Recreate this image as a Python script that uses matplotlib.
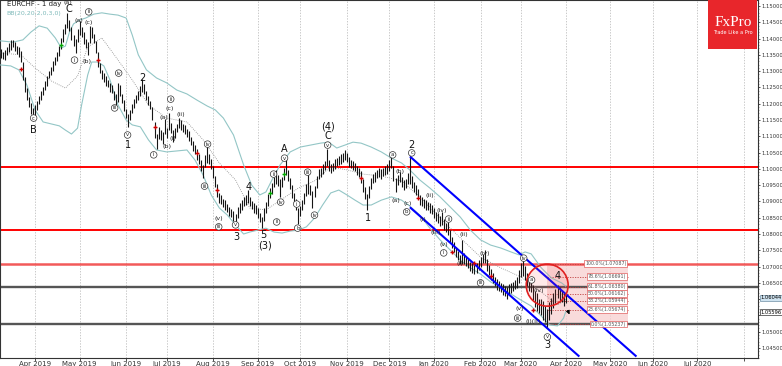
import numpy as np
import pandas as pd
import matplotlib
matplotlib.use("Agg")
import matplotlib.pyplot as plt
import matplotlib.transforms as mtrans
from matplotlib.patches import Ellipse, Rectangle

# daily bars from 2019-03-07, one per weekday (bar index)
start_date = "2019-03-07"

bar_mid = [
    1.1355, 1.1348, 1.1350, 1.1362, 1.1372, 1.1380, 1.1385, 1.1376, 1.1365, 1.1358,
    1.1345, 1.1300, 1.1260, 1.1230, 1.1205, 1.1185, 1.1168, 1.1180, 1.1195, 1.1212,
    1.1225, 1.1240, 1.1255, 1.1270, 1.1290, 1.1300, 1.1315, 1.1330, 1.1345, 1.1362,
    1.1385, 1.1410, 1.1430, 1.1455, 1.1440, 1.1415, 1.1395, 1.1378, 1.1410, 1.1432,
    1.1420, 1.1402, 1.1385, 1.1370, 1.1412, 1.1420, 1.1400, 1.1375, 1.1335, 1.1310,
    1.1290, 1.1280, 1.1270, 1.1262, 1.1250, 1.1245, 1.1225, 1.1212, 1.1235, 1.1240,
    1.1215, 1.1195, 1.1170, 1.1148, 1.1165, 1.1185, 1.1200, 1.1215, 1.1225, 1.1240,
    1.1255, 1.1245, 1.1225, 1.1210, 1.1195, 1.1170, 1.1120, 1.1085, 1.1110, 1.1105,
    1.1095, 1.1130, 1.1110, 1.1145, 1.1125, 1.1100, 1.1110, 1.1125, 1.1140, 1.1135,
    1.1125, 1.1120, 1.1110, 1.1100, 1.1085, 1.1070, 1.1060, 1.1045, 1.1030, 1.1010,
    1.0992, 1.1025, 1.1045, 1.1030, 1.1015, 1.0990, 1.0960, 1.0935, 1.0910, 1.0905,
    1.0895, 1.0890, 1.0880, 1.0870, 1.0865, 1.0855, 1.0842, 1.0865, 1.0880, 1.0890,
    1.0900, 1.0905, 1.0915, 1.0900, 1.0890, 1.0880, 1.0875, 1.0865, 1.0850, 1.0835,
    1.0860, 1.0880, 1.0905, 1.0925, 1.0940, 1.0960, 1.0975, 1.0965, 1.0940, 1.0960,
    1.0985, 1.1005, 1.0980, 1.0955, 1.0930, 1.0910, 1.0890, 1.0855, 1.0870, 1.0890,
    1.0910, 1.0935, 1.0955, 1.0935, 1.0905, 1.0930, 1.0960, 1.0985, 1.0990, 1.1000,
    1.1010, 1.1035, 1.1010, 1.1000, 1.1005, 1.1015, 1.1020, 1.1025, 1.1030, 1.1035,
    1.1042, 1.1035, 1.1020, 1.1015, 1.1010, 1.1005, 1.0995, 1.0990, 1.0975, 1.0950,
    1.0925, 1.0898, 1.0930, 1.0955, 1.0970, 1.0975, 1.0985, 1.0990, 1.0985, 1.0990,
    1.0995, 1.1000, 1.1010, 1.1022, 1.0985, 1.0950, 1.0965, 1.0975, 1.0960, 1.0950,
    1.0955, 1.0970, 1.0995, 1.0960, 1.0945, 1.0935, 1.0925, 1.0905, 1.0900, 1.0895,
    1.0890, 1.0885, 1.0880, 1.0875, 1.0865, 1.0855, 1.0850, 1.0840, 1.0848, 1.0830,
    1.0820, 1.0818, 1.0795, 1.0775, 1.0760, 1.0745, 1.0735, 1.0722, 1.0745, 1.0725,
    1.0715, 1.0710, 1.0700, 1.0695, 1.0690, 1.0695, 1.0705, 1.0715, 1.0725, 1.0732,
    1.0705, 1.0690, 1.0675, 1.0665, 1.0655, 1.0645, 1.0640, 1.0635, 1.0630, 1.0625,
    1.0618, 1.0630, 1.0635, 1.0640, 1.0645, 1.0650, 1.0670, 1.0690, 1.0700, 1.0680,
    1.0660, 1.0645, 1.0640, 1.0620, 1.0600, 1.0590, 1.0580, 1.0575, 1.0565, 1.0555,
    1.0540, 1.0565, 1.0580, 1.0595, 1.0610, 1.0625, 1.0615, 1.0610, 1.0600, 1.0604,
]

bar_span_pips = [
    28, 22, 30, 25, 26, 32, 24, 29, 27, 31,
    35, 55, 45, 38, 30, 34, 40, 33, 28, 26,
    30, 24, 27, 29, 22, 26, 31, 25, 28, 30,
    34, 38, 32, 48, 36, 40, 33, 42, 38, 45,
    30, 35, 28, 40, 52, 34, 30, 38, 45, 32,
    28, 26, 30, 24, 27, 25, 30, 34, 60, 32,
    28, 33, 30, 42, 30, 26, 28, 24, 27, 30,
    40, 30, 26, 28, 25, 38, 50, 45, 34, 30,
    35, 48, 32, 52, 30, 38, 28, 26, 32, 30,
    25, 28, 24, 30, 26, 32, 28, 35, 30, 33,
    42, 38, 55, 32, 30, 36, 34, 40, 32, 28,
    25, 30, 26, 28, 24, 30, 36, 34, 28, 30,
    26, 30, 38, 28, 25, 30, 27, 32, 28, 36,
    40, 34, 38, 30, 35, 32, 40, 34, 55, 30,
    36, 48, 34, 32, 38, 30, 35, 50, 32, 30,
    34, 36, 62, 30, 52, 34, 38, 30, 28, 32,
    30, 50, 34, 28, 26, 30, 25, 28, 30, 26,
    32, 28, 30, 26, 28, 25, 30, 27, 35, 40,
    38, 48, 36, 32, 28, 30, 26, 28, 30, 25,
    28, 30, 32, 40, 45, 42, 30, 28, 32, 30,
    28, 34, 80, 38, 30, 32, 28, 30, 26, 28,
    30, 25, 28, 26, 30, 28, 32, 30, 38, 34,
    30, 40, 36, 34, 32, 30, 28, 30, 75, 34,
    28, 30, 26, 32, 28, 30, 28, 30, 26, 40,
    38, 32, 34, 30, 28, 32, 30, 28, 34, 30,
    36, 32, 30, 28, 30, 34, 40, 45, 55, 42,
    38, 40, 36, 45, 50, 55, 42, 48, 60, 50,
    60, 55, 48, 45, 42, 40, 45, 38, 40, 30,
]

# Bollinger bands (bar index, price)
bb_upper_idx = [0, 6, 11, 15, 19, 23, 27, 30, 32, 34, 36, 39, 42, 46, 50, 54, 58, 62, 65, 68,
                72, 77, 82, 87, 92, 97, 102, 106, 110, 115, 120, 124, 128, 131, 134, 138, 143,
                148, 153, 158, 162, 166, 170, 174, 178, 183, 188, 193, 198, 202, 207, 212, 217,
                222, 227, 232, 237, 242, 247, 252, 256, 259, 262, 267, 272, 277, 279]
bb_upper = [1.1393, 1.1389, 1.1396, 1.1420, 1.1439, 1.1432, 1.1402, 1.1371, 1.1377, 1.1420,
            1.1445, 1.1457, 1.1463, 1.1475, 1.1479, 1.1475, 1.1472, 1.1463, 1.1411, 1.1350,
            1.1304, 1.1279, 1.1264, 1.1242, 1.1230, 1.1211, 1.1193, 1.1181, 1.1156, 1.1104,
            1.1012, 1.0950, 1.0920, 1.0929, 1.0966, 1.1012, 1.1052, 1.1067, 1.1073, 1.1079,
            1.1082, 1.1064, 1.1073, 1.1082, 1.1079, 1.1067, 1.1052, 1.1033, 1.1018, 1.0997,
            1.0966, 1.0941, 1.0914, 1.0883, 1.0852, 1.0812, 1.0782, 1.0766, 1.0757, 1.0745,
            1.0736, 1.0745, 1.0739, 1.0696, 1.0665, 1.0650, 1.0640]
bb_lower_idx = [0, 5, 9, 13, 17, 21, 25, 29, 32, 35, 38, 40, 43, 45, 48, 51, 54, 58, 62, 65,
                69, 73, 77, 82, 87, 92, 96, 100, 104, 108, 112, 116, 120, 123, 127, 131, 135,
                139, 143, 147, 151, 155, 159, 163, 167, 171, 175, 179, 183, 188, 193, 198, 202,
                207, 212, 217, 222, 227, 232, 237, 242, 247, 252, 257, 262, 267, 271, 275, 278, 279]
bb_lower = [1.1319, 1.1316, 1.1304, 1.1257, 1.1181, 1.1144, 1.1138, 1.1132, 1.1119, 1.1107,
            1.1125, 1.1196, 1.1288, 1.1328, 1.1328, 1.1316, 1.1273, 1.1196, 1.1150, 1.1135,
            1.1129, 1.1089, 1.1058, 1.1052, 1.1055, 1.1058, 1.1027, 1.0981, 1.0920, 1.0880,
            1.0858, 1.0828, 1.0800, 1.0806, 1.0812, 1.0818, 1.0806, 1.0803, 1.0809, 1.0812,
            1.0822, 1.0849, 1.0889, 1.0926, 1.0935, 1.0920, 1.0904, 1.0889, 1.0889, 1.0904,
            1.0914, 1.0904, 1.0886, 1.0858, 1.0818, 1.0782, 1.0751, 1.0720, 1.0696, 1.0677,
            1.0653, 1.0634, 1.0616, 1.0597, 1.0579, 1.0548, 1.0521, 1.0518, 1.0542, 1.0561]
bb_mid_idx = [0, 10, 17, 25, 32, 38, 43, 50, 58, 65, 73, 82, 92, 100, 108, 116, 123, 131, 139,
              147, 155, 163, 171, 179, 188, 198, 207, 217, 227, 237, 247, 257, 267, 275, 279]
bb_mid = [1.1356, 1.1350, 1.1310, 1.1270, 1.1248, 1.1285, 1.1374, 1.1402, 1.1334, 1.1273,
          1.1196, 1.1156, 1.1144, 1.1089, 1.1018, 1.0966, 1.0880, 1.0874, 1.0907, 1.0941,
          1.0963, 1.1006, 1.0997, 1.0984, 1.0978, 1.0963, 1.0914, 1.0849, 1.0788, 1.0729,
          1.0696, 1.0668, 1.0622, 1.0582, 1.0600]

# horizontal support / resistance levels
red_levels = [1.1005, 1.0812]
fib_top_level = 1.07087
gray_levels = [1.06380, 1.05237]

fib_pct = ["100.0%", "78.6%", "61.8%", "50.0%", "38.2%", "23.6%", "0.0%"]
fib_price = [1.07087, 1.06691, 1.06380, 1.06162, 1.05944, 1.05674, 1.05237]

last_price = 1.06044
ask_price = 1.05596

# down channel anchors (bar index, price)
chan_idx = [202.5, 313.6]
chan_upper = [1.1036, 1.0426]
chan_lower_idx = [202.5, 285.4]
chan_lower = [1.0880, 1.0426]

red_mark_idx = [10, 48, 76, 97, 107, 178, 206, 223, 234, 242, 263]
red_mark_px = [1.1307, 1.1334, 1.1129, 1.1049, 1.0935, 1.0972, 1.0911, 1.0745, 1.0711, 1.0671, 1.0567]
green_mark_idx = [30, 133, 140]
green_mark_px = [1.1380, 1.0926, 1.0984]

big_labels = [("C", 33.6, 1.1491), ("B", 16.3, 1.1119), ("1", 62.7, 1.1073), ("2", 70.1, 1.1279),
              ("4", 122.5, 1.0944), ("3", 116.5, 1.0791), ("5", 129.9, 1.0797), ("(3)", 130.4, 1.0766),
              ("A", 140.2, 1.1061), ("(4)", 161.5, 1.1129), ("C", 161.5, 1.1101), ("1", 181.2, 1.0849),
              ("2", 203.0, 1.1073), ("4", 275.0, 1.0671), ("3", 270.0, 1.0459)]
circled_labels = [("i", 36.5, 1.1334), ("ii", 43.5, 1.1482), ("iii", 56.3, 1.1187), ("iv", 58.3, 1.1294),
                  ("v", 62.7, 1.1104), ("c", 16.3, 1.1156), ("i", 75.6, 1.1043), ("ii", 84.0, 1.1214),
                  ("ii", 134.8, 1.0984), ("iii", 107.7, 1.0822), ("v", 116.0, 1.0828), ("iv", 102.2, 1.1076),
                  ("iii", 100.7, 1.0947), ("v", 140.2, 1.1033), ("ii", 136.3, 1.0837), ("iv", 138.3, 1.0898),
                  ("i", 146.2, 1.0892), ("iii", 151.6, 1.0990), ("iv", 155.0, 1.0858), ("v", 161.5, 1.1073),
                  ("a", 193.6, 1.1043), ("c", 203.0, 1.1049), ("b", 200.5, 1.0868), ("ii", 221.2, 1.0846),
                  ("i", 218.8, 1.0742), ("iii", 237.0, 1.0650), ("iv", 258.3, 1.0726), ("iii", 255.3, 1.0542),
                  ("v", 270.0, 1.0484), ("a", 262.2, 1.0659), ("b", 146.7, 1.0818)]
paren_labels = [("(a)", 33.0, 1.1511), ("(a)", 38.5, 1.1457), ("(c)", 43.5, 1.1448), ("(b)", 42.5, 1.1331),
                ("(a)", 80.5, 1.1159), ("(b)", 82.0, 1.1070), ("(c)", 83.5, 1.1184), ("(i)", 85.0, 1.1092),
                ("(ii)", 89.0, 1.1168), ("(v)", 107.7, 1.0849), ("(b)", 197.0, 1.0993), ("(a)", 195.0, 1.0904),
                ("(c)", 201.0, 1.0895), ("(ii)", 211.9, 1.0917), ("(i)", 208.4, 1.0846), ("(iv)", 217.8, 1.0871),
                ("(iii)", 214.8, 1.0806), ("(v)", 218.8, 1.0769), ("(ii)", 228.6, 1.0800), ("(i)", 226.7, 1.0708),
                ("(iv)", 239.0, 1.0739), ("(iv)", 265.7, 1.0628), ("(v)", 256.3, 1.0570), ("(i)(ii)", 263.2, 1.0530)]

n_bars = len(bar_mid)
mid = np.array(bar_mid)
half = np.array(bar_span_pips) / 20000.0
idx = np.arange(n_bars)
dates = pd.bdate_range(start_date, periods=380)

fig = plt.figure(figsize=(7.82, 3.66), dpi=100)
ax = fig.add_axes([0.0, 8 / 366, 758 / 782, 358 / 366])
ax.set_xlim(-0.3, 374.0)
ax.set_ylim(1.04194, 1.15184)

# month grid
month_pos = [i for i in range(1, 375) if dates[i].month != dates[i - 1].month]
for i in month_pos:
    ax.axvline(i, color="#b4b4b4", lw=0.5, ls=(0, (2, 2)), zorder=0)
ax.set_xticks(month_pos)
ax.set_xticklabels([dates[i].strftime("%b %Y") if dates[i] < pd.Timestamp("2020-08-01") else ""
                    for i in month_pos])

# levels
for lv in red_levels:
    ax.axhline(lv, color="#ff0000", lw=1.4, zorder=2)
ax.axhline(fib_top_level, color="#f25a5a", lw=1.8, zorder=2)
for lv in gray_levels:
    ax.axhline(lv, color="#555555", lw=1.7, zorder=2)

# fibonacci box
fib_x0, fib_x1 = 270, 309.6
ax.add_patch(Rectangle((fib_x0, fib_price[-1]), fib_x1 - fib_x0, fib_price[0] - fib_price[-1],
                       facecolor="#f7d0d0", edgecolor="none", alpha=0.75, zorder=1))
for pct, fp in zip(fib_pct, fib_price):
    ax.plot([fib_x0, fib_x1], [fp, fp], color="#c04040", lw=0.6, ls=(0, (1.5, 1.5)), zorder=3)
    ax.text(fib_x1 - 0.6, fp, f"{pct}({fp:.5f})", fontsize=3.4, ha="right", va="center",
            color="#555555", zorder=7,
            bbox=dict(boxstyle="square,pad=0.2", fc="white", ec="#e06060", lw=0.5))

# bollinger
ax.plot(bb_upper_idx, bb_upper, color="#93c6c6", lw=0.8, zorder=3)
ax.plot(bb_lower_idx, bb_lower, color="#93c6c6", lw=0.8, zorder=3)
ax.plot(bb_mid_idx, bb_mid, color="#8a8a8a", lw=0.6, ls=(0, (1, 1.5)), zorder=3)

# bars
ax.vlines(idx, mid - half, mid + half, color="#151515", lw=0.8, zorder=4)

# channel
ax.plot(chan_idx, chan_upper, color="#0000ff", lw=1.5, zorder=5)
ax.plot(chan_lower_idx, chan_lower, color="#0000ff", lw=1.5, zorder=5)

# red circle round wave 4
ax.add_patch(Ellipse((269.9, 1.0643), 20.7, 0.0129, facecolor=(1, 0.3, 0.3, 0.12),
                     edgecolor="#e02020", lw=1.2, zorder=5))

ax.scatter(red_mark_idx, red_mark_px, marker="+", s=12, color="#cc0000", lw=1.0, zorder=6)
ax.scatter(green_mark_idx, green_mark_px, marker="+", s=12, color="#00aa00", lw=1.0, zorder=6)

ax.annotate("", xy=(281.5, 1.0545), xytext=(279.5, 1.0573),
            arrowprops=dict(arrowstyle="-|>", color="black", lw=0.8, mutation_scale=5), zorder=7)

for t, x, y in big_labels:
    ax.text(x, y, t, fontsize=7, ha="center", va="center", color="#111111", zorder=7)
for t, x, y in circled_labels:
    ax.text(x, y, t, fontsize=3.8, ha="center", va="center", color="#222222", zorder=7,
            bbox=dict(boxstyle="circle,pad=0.15", fc="white", ec="#333333", lw=0.5))
for t, x, y in paren_labels:
    ax.text(x, y, t, fontsize=4.6, ha="center", va="center", color="#222222", zorder=7)

# axes styling: price scale on the right, labels under the two price tags left out
yticks = np.round(np.arange(1.045, 1.1501, 0.005), 3)
ax.yaxis.tick_right()
ax.set_yticks(yticks)
ax.set_yticklabels(["" if abs(v - last_price) < 0.002 or abs(v - ask_price) < 0.002 else f"{v:.5f}"
                    for v in yticks])
ax.set_yticks(np.arange(1.042, 1.1518, 0.001), minor=True)
ax.tick_params(axis="y", which="major", labelsize=3.8, length=1.6, width=0.6, pad=0.6, colors="#333333")
ax.tick_params(axis="y", which="minor", length=1.0, width=0.4, colors="#555555")
ax.tick_params(axis="x", labelsize=5, length=2, width=0.6, pad=0.5, colors="#333333")
for s in ax.spines.values():
    s.set_linewidth(0.8)
    s.set_color("#333333")

trans = mtrans.blended_transform_factory(ax.transAxes, ax.transData)
ax.text(1.003, last_price, f"{last_price:.5f}", transform=trans, fontsize=3.7, va="center", ha="left",
        bbox=dict(boxstyle="square,pad=0.12", fc="#cfe3f0", ec="#6f8fa5", lw=0.5), clip_on=False)
ax.text(1.003, ask_price, f"{ask_price:.5f}", transform=trans, fontsize=3.7, va="center", ha="left",
        bbox=dict(boxstyle="square,pad=0.12", fc="white", ec="#333333", lw=0.5), clip_on=False)

ax.text(3, 1.1505, "EURCHF - 1 day", fontsize=5, color="#222222", va="center", ha="left")
ax.text(3, 1.1478, "BB(20,20,2,0,3,0)", fontsize=4.5, color="#7fbaba", va="center", ha="left")

# FxPro badge
fig.patches.append(Rectangle((708 / 782, 1 - 49 / 366), 49 / 782, 49 / 366,
                             transform=fig.transFigure, facecolor="#e8262b", edgecolor="none", zorder=10))
fig.text(733 / 782, 1 - 22 / 366, "FxPro", fontsize=11, color="white", ha="center", va="center",
         family="Liberation Serif", zorder=11)
fig.text(733 / 782, 1 - 33 / 366, "Trade Like a Pro", fontsize=3.6, color="white", ha="center",
         va="center", zorder=11)

fig.savefig("out.png", dpi=100)
